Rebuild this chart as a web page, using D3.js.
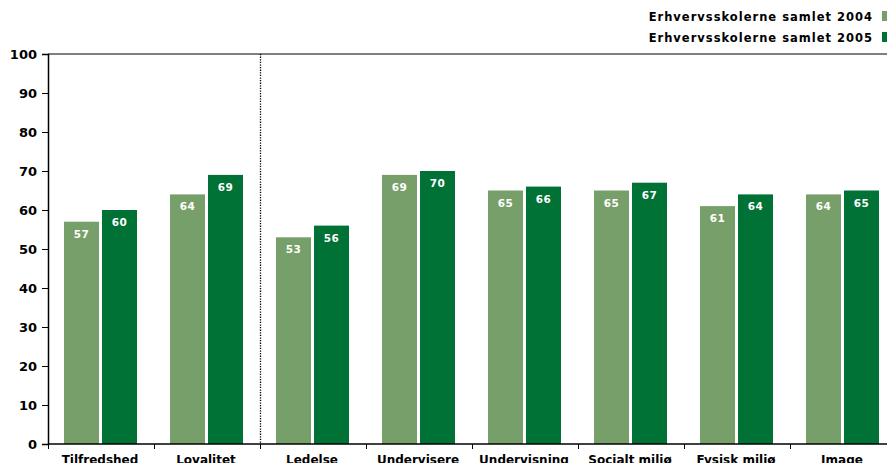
<!DOCTYPE html>
<html><head><meta charset="utf-8">
<script src="https://cdn.jsdelivr.net/npm/d3@7"></script>
<style>
html,body{margin:0;padding:0;background:#fff;overflow:hidden;}
svg{display:block;font-family:"DejaVu Sans",Verdana,sans-serif;}
</style></head>
<body>
<svg id="chart" width="887" height="463"></svg>
<script>
const categories = ["Tilfredshed","Lovalitet","Ledelse","Undervisere","Undervisning","Socialt miljø","Fysisk miljø","Image"];
const seriesNames = ["Erhvervsskolerne samlet 2004","Erhvervsskolerne samlet 2005"];
const values2004 = [57,64,53,69,65,65,61,64];
const values2005 = [60,69,56,70,66,67,64,65];
const yTicks = [0,10,20,30,40,50,60,70,80,90,100];
const colors = ["#779f69","#007236"];

(function(){
const svg = d3.select("#chart");
const mLeft = 48, mTop = 54, mBottom = 444, mRight = 896;
const x = d3.scaleBand().domain(categories).range([mLeft, mRight]).paddingInner(0).paddingOuter(0);
const y = d3.scaleLinear().domain([0,100]).range([mBottom, mTop]);
const inner = d3.scaleBand().domain([0,1]).range([16, 89]).paddingInner(3/38);

const series = [values2004, values2005];
const g = svg.append("g");
series.forEach((vals, si) => {
  g.selectAll(null).data(categories).enter().append("rect")
    .attr("x", d => x(d) + inner(si))
    .attr("width", inner.bandwidth())
    .attr("y", (d,i) => y(vals[i]))
    .attr("height", (d,i) => y(0) - y(vals[i]))
    .attr("fill", colors[si]);
  g.selectAll(null).data(categories).enter().append("text")
    .attr("x", d => x(d) + inner(si) + inner.bandwidth()/2)
    .attr("y", (d,i) => y(vals[i]) + 16)
    .attr("text-anchor","middle")
    .attr("fill","#fff")
    .attr("font-size","10.5px").attr("font-weight","bold").attr("letter-spacing","0.5px")
    .text((d,i) => vals[i]);
});

svg.append("line").attr("x1",mLeft).attr("x2",mRight).attr("y1",y(100)).attr("y2",y(100))
  .attr("stroke","#000").attr("stroke-width",1);

svg.append("line").attr("x1",x(categories[2])+0.5).attr("x2",x(categories[2])+0.5)
  .attr("y1",y(100)).attr("y2",y(0))
  .attr("stroke","#000").attr("stroke-width",1.3).attr("stroke-dasharray","1.3,1.3");

const yAxis = d3.axisLeft(y).tickValues(yTicks).tickSize(6).tickPadding(5);
const ya = svg.append("g").attr("transform",`translate(${mLeft},0)`).call(yAxis);
ya.select(".domain").attr("stroke-width",1.5);
ya.selectAll("text").attr("font-size","13px").attr("font-weight","bold").attr("fill","#000")
  .attr("font-family","DejaVu Sans, sans-serif");

const xa = svg.append("g").attr("transform",`translate(0,${mBottom})`);
xa.append("line").attr("x1",mLeft).attr("x2",mRight).attr("stroke","#000").attr("stroke-width",1.5);
xa.selectAll(null).data(categories).enter().append("line")
  .attr("x1", d => x(d)+0.5).attr("x2", d => x(d)+0.5).attr("y1",0).attr("y2",5)
  .attr("stroke","#000");
xa.selectAll(null).data(categories).enter().append("text")
  .attr("x", d => x(d) + x.bandwidth()/2 - 1)
  .attr("y", 20)
  .attr("text-anchor","middle").attr("font-size","12px").attr("font-weight","bold")
  .text(d => d);

const lg = svg.append("g");
seriesNames.forEach((n, i) => {
  const yy = 21 + i*21;
  lg.append("text").attr("x", 873).attr("y", yy).attr("text-anchor","end")
    .attr("font-size","11.5px").attr("font-weight","bold").attr("letter-spacing","1px").text(n);
  lg.append("rect").attr("x", 882).attr("y", yy - 10).attr("width", 8).attr("height", 10).attr("fill", colors[i]);
});
})();
</script>
</body></html>
